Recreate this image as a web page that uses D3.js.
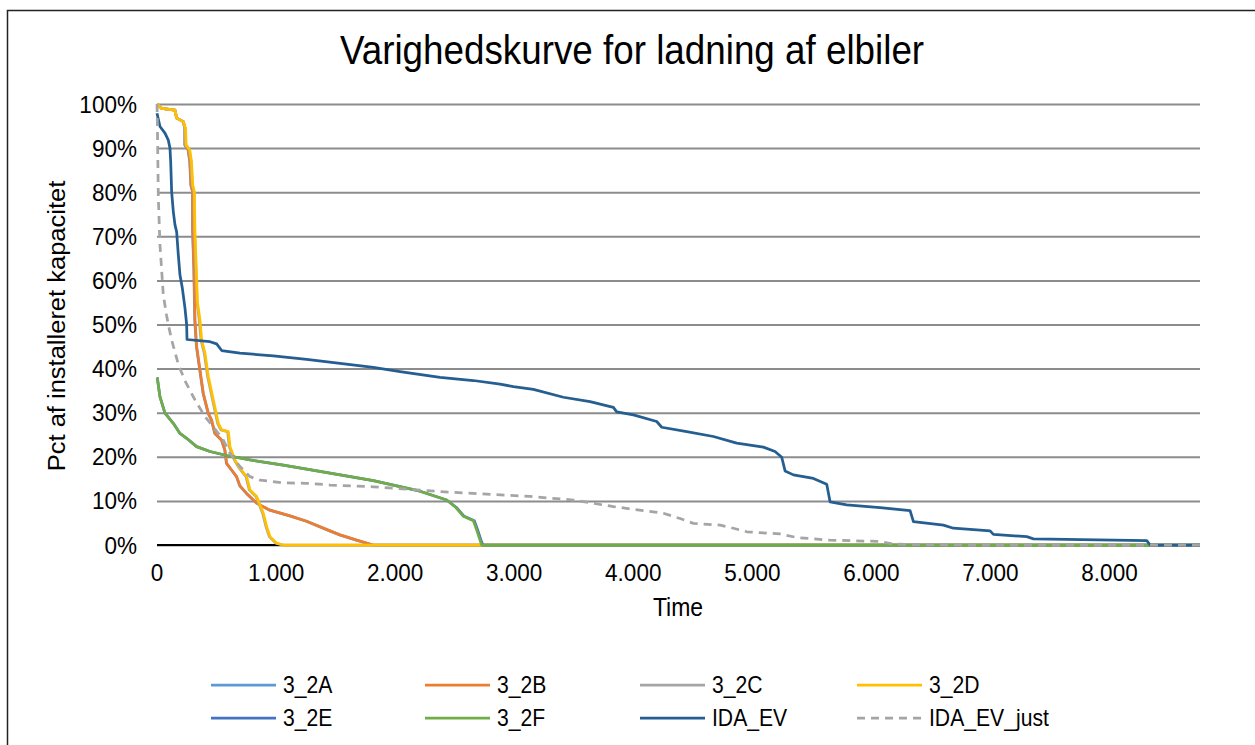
<!DOCTYPE html>
<html><head><meta charset="utf-8">
<script src="https://cdn.jsdelivr.net/npm/d3@7"></script>
<style>
html,body{margin:0;padding:0;background:#fff;}
svg{display:block;font-family:"Liberation Sans",Arial,sans-serif;}
</style></head>
<body>
<svg id="chart" width="1255" height="745"></svg>
<script>
// ---------- DATA ----------
const title = "Varighedskurve for ladning af elbiler";
const xTitle = "Time";
const yTitle = "Pct af installeret kapacitet";
const xTicks = [0,1000,2000,3000,4000,5000,6000,7000,8000];
const yTicks = [0,10,20,30,40,50,60,70,80,90,100];
const seriesNames = ["3_2A","3_2B","3_2C","3_2D","3_2E","3_2F","IDA_EV","IDA_EV_just"];
const seriesColors = ["#5B9BD5","#ED7D31","#A5A5A5","#FFC000","#4472C4","#70AD47","#255E91","#A5A5A5"];

const hours_3_2A = [0,39,151,165,221,233,233,261,275,284,298,298,309,317,331,359,387,429,457,485,541,569,583,625,667,695,751,835,947,1115,1255,1451,1535,1675,1810,8760];
const pct_3_2A   = [100,99,98.6,96.8,96,94.5,90.7,89.6,86.9,81.6,80.1,71.8,62.7,51,45,39.7,34.4,29.9,28.3,25.3,23.8,21.5,18.5,17,15.5,13.4,11.7,9.5,7.9,6.6,5.4,3.2,2.3,1.1,0,0];

const hours_3_2B = [0,39,151,165,221,235,235,263,277,286,300,300,311,319,333,361,389,431,459,487,543,571,585,627,669,697,753,837,949,1117,1257,1453,1537,1677,1817,8760];
const pct_3_2B   = [100,99,98.6,96.8,96,94.5,90.7,89.6,86.9,81.6,80.1,71.8,62.7,51,45,39.7,34.4,29.9,28.3,25.3,23.8,21.5,18.5,17,15.5,13.4,11.7,9.5,7.9,6.6,5.4,3.2,2.3,1.1,0,0];

const hours_3_2C = [0,39,151,165,221,236,241,271,286,296,310,314,326,336,355,369,397,425,467,509,537,593,607,649,691,747,775,831,887,915,943,999,1055,8760];
const pct_3_2C   = [100,99,98.6,96.8,96,94.5,90.7,89.6,86.9,81.6,80.1,71.8,62.7,55,51,46.5,43.5,38.2,32.9,27.6,26.1,25.7,22.3,19.3,17.4,15.5,12.5,11,7.2,4.2,1.9,0.4,0,0];

const hours_3_2D = [0,39,151,165,221,240,245,275,290,300,314,318,330,340,361,375,403,431,473,515,543,599,613,655,697,753,781,837,893,921,949,1005,1061,8760];
const pct_3_2D   = [100,99,98.6,96.8,96,94.5,90.7,89.6,86.9,81.6,80.1,71.8,62.7,55,51,46.5,43.5,38.2,32.9,27.6,26.1,25.7,22.3,19.3,17.4,15.5,12.5,11,7.2,4.2,1.9,0.4,0,0];

const hours_3_2E = [0,3,25,67,137,193,249,333,445,585,781,1061,1453,1817,2097,2209,2433,2515,2580,2665,2693,2721,2737,8760];
const pct_3_2E   = [38,37.8,33.6,29.9,27.6,25.3,24.2,22.3,21.2,20.3,19.3,18.1,16.3,14.6,12.9,12.2,10.2,8.5,6.5,5.5,3.4,1.1,0,0];

const hours_3_2F = [0,3,25,67,137,193,249,333,445,585,781,1061,1453,1817,2097,2209,2433,2510,2573,2657,2685,2713,2727,8760];
const pct_3_2F   = [38,37.8,33.6,29.9,27.6,25.3,24.2,22.3,21.2,20.3,19.3,18.1,16.3,14.6,12.9,12.2,10.2,8.5,6.5,5.5,3.4,1.1,0,0];

const hours_IDA_EV = [0,25,67,95,109,115,123,137,151,165,179,193,213,235,249,252,445,501,543,697,977,1257,1537,1817,2041,2377,2657,2881,2993,3161,3413,3637,3833,3861,4001,4197,4239,4449,4673,4869,5093,5191,5247,5275,5345,5513,5625,5653,5793,6073,6325,6353,6605,6689,6997,7025,7305,7361,8313,8341,8760];
const pct_IDA_EV   = [97.9,94.9,93.4,91.8,90,86.9,80.1,75.6,72.6,71,65.8,61.2,58.2,53.7,50,46.6,46.1,45.6,44.1,43.5,42.9,42.1,41.2,40.3,39.3,38.0,37.3,36.5,35.9,35.3,33.5,32.5,31.2,30.2,29.5,28,26.7,25.7,24.6,23.1,22.2,21.2,19.9,16.8,15.9,15.1,13.8,9.8,9.1,8.5,7.8,5.3,4.5,3.8,3.2,2.4,1.9,1.4,1.0,0,0];

const hours_IDA_EV_just = [0,3,11,25,53,81,95,123,179,235,319,403,473,557,613,697,781,865,1061,1257,1453,1817,2377,2657,3133,3497,3833,4253,4393,4505,4729,4841,4953,5233,5373,5653,6073,6185,6745,8760];
const pct_IDA_EV_just   = [100,96,79,68,56.7,52,50,46.5,41,37.2,32.9,29.1,26.8,23.8,20.8,17.8,15.5,14.7,14.1,14,13.6,13.2,12.1,11.7,11,10.2,8.7,7.2,6,4.9,4.5,3.8,3,2.5,1.7,1.1,0.8,0.2,0,0];

const seriesHours = [hours_3_2A,hours_3_2B,hours_3_2C,hours_3_2D,hours_3_2E,hours_3_2F,hours_IDA_EV,hours_IDA_EV_just];
const seriesPct   = [pct_3_2A,pct_3_2B,pct_3_2C,pct_3_2D,pct_3_2E,pct_3_2F,pct_IDA_EV,pct_IDA_EV_just];

// ---------- DRAW ----------
const svg = d3.select("#chart");
const SX = 0.92; // horizontal squeeze of text
const fmtX = d3.formatLocale({decimal:",",thousands:".",grouping:[3],currency:["","kr"]}).format(",.0f");

svg.append("rect").attr("x",7.5).attr("y",10.5).attr("width",1260).attr("height",750)
  .attr("fill","#fff").attr("stroke","#222").attr("stroke-width",1.5);

const x = d3.scaleLinear().domain([0,8760]).range([157,1200]);
const y = d3.scaleLinear().domain([0,100]).range([545,104]);

function sText(px,py,str,size,anchor){
  return svg.append("text").attr("transform",`translate(${px},${py}) scale(${SX},1)`)
    .attr("text-anchor",anchor).attr("font-size",size).attr("fill","#000").text(str);
}

// gridlines via axis
const gy = svg.append("g").attr("transform","translate(157,0)")
  .call(d3.axisLeft(y).tickValues(yTicks).tickSize(-(1200-157)).tickFormat(""));
gy.select(".domain").remove();
gy.selectAll("line").attr("stroke","#8c8c8c").attr("stroke-width",2);

// y tick labels
yTicks.forEach(v=> sText(137, y(v)+8.5, v+"%", 24.5, "end"));
// x axis line
svg.append("line").attr("x1",157).attr("x2",1200).attr("y1",y(0)).attr("y2",y(0))
  .attr("stroke","#000").attr("stroke-width",2);
// x tick labels
xTicks.forEach(v=> sText(x(v), 581, fmtX(v), 24.5, "middle"));

// series
const line = d3.line().x(d=>x(d[0])).y(d=>y(d[1]));
seriesNames.forEach((n,i)=>{
  const pts = seriesHours[i].map((h,j)=>[h,seriesPct[i][j]]);
  svg.append("path").datum(pts).attr("d",line).attr("fill","none")
    .attr("stroke",seriesColors[i]).attr("stroke-width",2.75)
    .attr("stroke-linejoin","round")
    .attr("stroke-dasharray", n==="IDA_EV_just" ? "8,6" : null);
});

// titles
sText(632, 64, title, 40, "middle");
sText(678, 616, xTitle, 25, "middle");
svg.append("text").attr("transform",`translate(65,326) scale(${SX},1) rotate(-90)`)
  .attr("text-anchor","middle").attr("font-size",25.5).attr("fill","#000").text(yTitle);

// legend
const legX = [211,425,640,857];
const legY = [685,718];
seriesNames.forEach((n,i)=>{
  const lx = legX[i%4], ly = legY[Math.floor(i/4)];
  svg.append("line").attr("x1",lx).attr("x2",lx+65).attr("y1",ly).attr("y2",ly)
    .attr("stroke",seriesColors[i]).attr("stroke-width",2.75)
    .attr("stroke-dasharray", n==="IDA_EV_just" ? "8,6" : null);
  sText(lx+72, ly+8, n, 23, "start");
});
</script>
</body></html>
